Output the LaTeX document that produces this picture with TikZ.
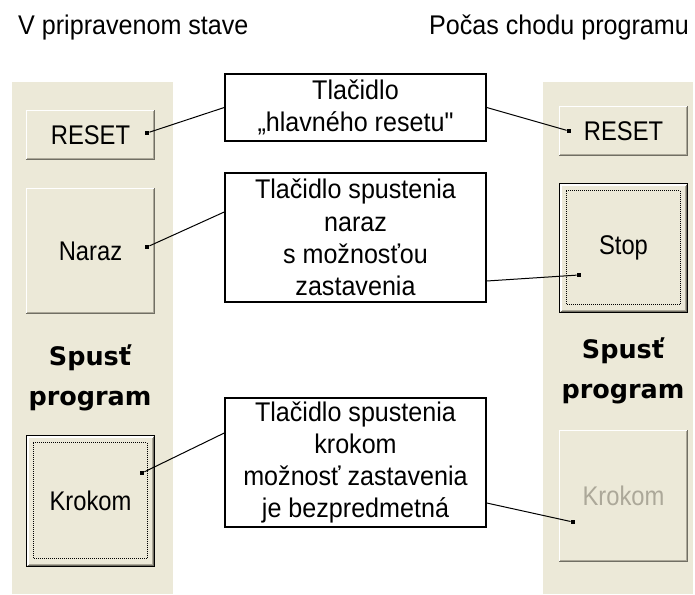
\documentclass[tikz,border=0pt]{standalone}
\usepackage{fontspec}
\newfontfamily\winfont{Liberation Sans}[FakeStretch=0.93]
\newfontfamily\btnfont{Liberation Sans}[FakeStretch=0.88]
\newfontfamily\spfont{DejaVu Sans}
\definecolor{xpface}{HTML}{ECE9D8}
\definecolor{xpdark}{HTML}{716F64}
\definecolor{xpmid}{HTML}{ACA899}
\tikzset{
  panel/.style={fill=xpface, draw=none},
  btn/.style={fill=xpface, draw=none, inner sep=0pt, font=\btnfont\fontsize{27}{30}\selectfont},
  note/.style={draw=black, line width=1.5pt, fill=white, inner sep=0pt, align=center,
    minimum width=261pt, font=\winfont\fontsize{27}{32.3}\selectfont},
  title/.style={inner sep=0pt, anchor=base west, font=\winfont\fontsize{27}{30}\selectfont},
  spust/.style={inner sep=0pt, align=center, font=\spfont\bfseries\fontsize{25.5}{39.5}\selectfont},
  dot/.style={rectangle, fill=black, minimum size=4.5pt, inner sep=0pt},
  conn/.style={draw=black, line width=1pt},
}
\newcommand\xpbevel[2]{%
  \pgfmathsetmacro\ia{#1+0.75}\pgfmathsetmacro\ib{#1+0.5}\pgfmathsetmacro\ic{#1+1.5}%
  \draw[white,line width=1.5pt] ([shift={(\ia pt,\ia pt)}]#2.south west) |- ([shift={(-\ia pt,-\ia pt)}]#2.north east);
  \draw[xpdark,line width=1pt] ([shift={(\ib pt,\ib pt)}]#2.south west) -| ([shift={(-\ib pt,-\ib pt)}]#2.north east);
  \draw[xpmid,line width=1pt] ([shift={(\ic pt,\ic pt)}]#2.south west) -| ([shift={(-\ic pt,-\ic pt)}]#2.north east);
}
\newcommand\xpfocus[1]{%
  \draw[black,line width=1.5pt] ([shift={(0.75pt,0.75pt)}]#1.south west) rectangle ([shift={(-0.75pt,-0.75pt)}]#1.north east);
  \xpbevel{1.5}{#1}
  \draw[black,line width=1pt,dash pattern=on 1pt off 1pt] ([shift={(7.5pt,9pt)}]#1.south west) rectangle ([shift={(-8pt,-7.5pt)}]#1.north east);
}
\begin{document}
\begin{tikzpicture}[x=1pt,y=-1pt]
\useasboundingbox[fill=white] (0,0) rectangle (695,594);

% titles
\node[title] (tl) at (18,35) {V pripravenom stave};
\node[title] (tr) at (429,35) {Počas chodu programu};

% panels
\path[panel] (12,82) rectangle (173,594);
\path[panel] (543,82) rectangle (693,594);

% left buttons
\node[btn, minimum width=129pt, minimum height=50pt] (lreset) at (90.5,135) {RESET};
\xpbevel{0}{lreset}
\node[btn, minimum width=129pt, minimum height=126pt] (lnaraz) at (90.5,251) {Naraz};
\xpbevel{0}{lnaraz}
\node[spust] (lspust) at (90,378) {Spusť\\program};
\node[btn, minimum width=129pt, minimum height=132pt] (lkrok) at (90.5,501) {Krokom};
\xpfocus{lkrok}

% right buttons
\node[btn, minimum width=129pt, minimum height=50pt] (rreset) at (623.5,131) {RESET};
\xpbevel{0}{rreset}
\node[btn, minimum width=129pt, minimum height=130pt] (rstop) at (623.5,248) {Stop};
\xpfocus{rstop}
\node[spust] (rspust) at (623,371) {Spusť\\program};
\node[btn, minimum width=129pt, minimum height=132pt, text=xpmid] (rkrok) at (623.5,496) {Krokom};
\xpbevel{0}{rkrok}

% notes
\node[note, minimum height=67pt] (n1) at (355.5,107.5) {Tlačidlo\\„hlavného resetu"};
\node[note, minimum height=129pt] (n2) at (355.5,237.5) {Tlačidlo spustenia\\naraz\\s možnosťou\\zastavenia};
\node[note, minimum height=129pt] (n3) at (355.5,462.5) {Tlačidlo spustenia\\krokom\\možnosť zastavenia\\je bezpredmetná};

% dots
\node[dot] (d1) at (147,133) {};
\node[dot] (d2) at (569,131) {};
\node[dot] (d3) at (147,247) {};
\node[dot] (d4) at (579,275) {};
\node[dot] (d5) at (142,473) {};
\node[dot] (d6) at (573,522) {};

% connectors
\draw[conn] (n1.west) -- (d1);
\draw[conn] (n1.east) -- (d2);
\draw[conn] ([yshift=25.5pt]n2.west) -- (d3);
\draw[conn] ([yshift=-43.5pt]n2.east) -- (d4);
\draw[conn] ([yshift=29.5pt]n3.west) -- (d5);
\draw[conn] ([yshift=-40.5pt]n3.east) -- (d6);
\end{tikzpicture}
\end{document}
